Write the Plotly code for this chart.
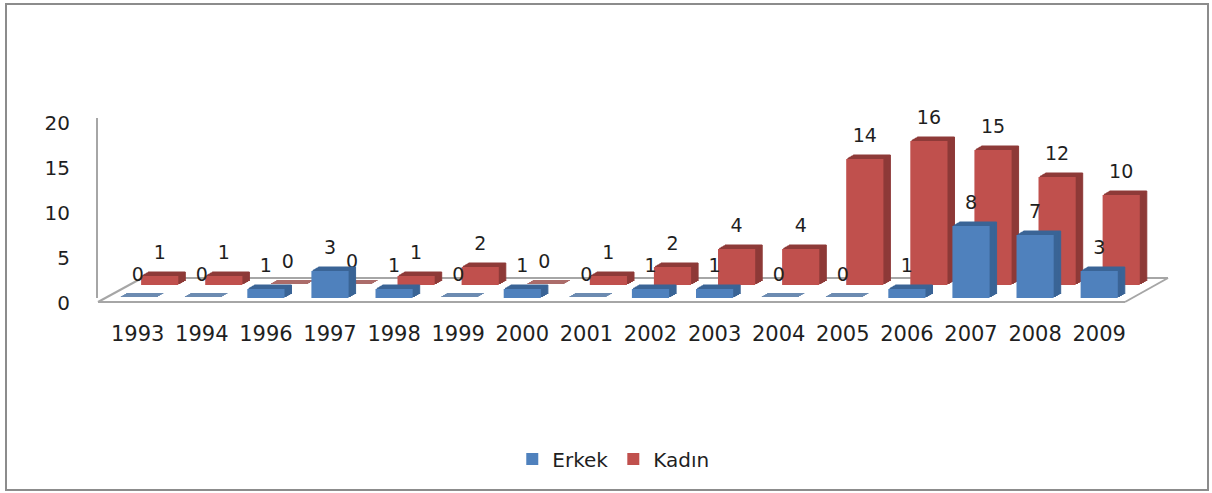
import plotly.graph_objects as go

years = ["1993", "1994", "1996", "1997", "1998", "1999", "2000", "2001",
         "2002", "2003", "2004", "2005", "2006", "2007", "2008", "2009"]
erkek = [0, 0, 1, 3, 1, 0, 1, 0, 1, 1, 0, 0, 1, 8, 7, 3]
kadin = [1, 1, 0, 0, 1, 2, 0, 1, 2, 4, 4, 14, 16, 15, 12, 10]

W, H = 1212, 493
FONT = "DejaVu Sans"
TXT = "#1F1F1F"

# geometry of the pseudo-3D projection (pixels)
CAT0, STEP = 137.7, 64.1          # centre of first category, category step
BASE, TOP = 298.0, 118.0          # y pixel of 0 and 20 for the front row
ROW_DX, ROW_DY = 22.0, -13.0      # back row offset
DEPTH_STEPS = [(1.75 * k, -1.0 * k) for k in range(1, 5)]
LABEL_DY = -10.0
BARW = 0.58

series = [
    dict(name="Kadın", vals=kadin, front="#C0504D", depth="#8E3A38",
         dx=ROW_DX, dy=ROW_DY),
    dict(name="Erkek", vals=erkek, front="#4F81BD", depth="#3A6496",
         dx=0.0, dy=0.0),
]

fig = go.Figure()
layout_axes = {}
idx = 0


def add_axes(dx, dy, visible=False):
    global idx
    idx += 1
    left = CAT0 - STEP / 2 + dx
    right = left + len(years) * STEP
    xd = [left / W, right / W]
    yd = [(H - (BASE + dy)) / H, (H - (TOP + dy)) / H]
    xn = "xaxis" if idx == 1 else f"xaxis{idx}"
    yn = "yaxis" if idx == 1 else f"yaxis{idx}"
    xa = "x" if idx == 1 else f"x{idx}"
    ya = "y" if idx == 1 else f"y{idx}"
    layout_axes[xn] = dict(domain=xd, anchor=ya, range=[-0.5, len(years) - 0.5],
                           type="category", categoryorder="array",
                           categoryarray=years, visible=visible, automargin=False,
                           showgrid=False, zeroline=False, fixedrange=True)
    layout_axes[yn] = dict(domain=yd, anchor=xa, range=[0, 20], visible=visible,
                           automargin=False,
                           showgrid=False, zeroline=False, fixedrange=True)
    return xa, ya, xn, yn


for s in series:
    # depth copies (furthest first)
    for ddx, ddy in reversed(DEPTH_STEPS):
        xa, ya, _, _ = add_axes(s["dx"] + ddx, s["dy"] + ddy)
        fig.add_trace(go.Bar(x=years, y=s["vals"], xaxis=xa, yaxis=ya,
                             width=BARW, marker=dict(color=s["depth"],
                             line=dict(color=s["depth"], width=1)),
                             showlegend=False, hoverinfo="skip"))
    # front face
    xa, ya, xn, yn = add_axes(s["dx"], s["dy"])
    fig.add_trace(go.Bar(x=years, y=s["vals"], xaxis=xa, yaxis=ya, name=s["name"],
                         width=BARW, marker=dict(color=s["front"], line=dict(width=0)),
                         showlegend=True, legendrank=2 if s["name"] == "Kadın" else 1))
    if s["name"] == "Erkek":
        front_xn, front_yn = xn, yn
    # value labels
    xa, ya, _, _ = add_axes(s["dx"], s["dy"] + LABEL_DY)
    fig.add_trace(go.Bar(x=years, y=s["vals"], xaxis=xa, yaxis=ya, width=BARW,
                         marker=dict(color="rgba(0,0,0,0)", line=dict(width=0)),
                         text=[str(v) for v in s["vals"]], textposition="outside",
                         textfont=dict(family=FONT, size=19, color=TXT),
                         constraintext="none", cliponaxis=False,
                         showlegend=False, hoverinfo="skip"))

# visible axes on the Erkek front subplot
layout_axes[front_xn].update(visible=True, showline=False, ticks="",
                             tickfont=dict(family=FONT, size=21, color=TXT),
                             ticklabelstandoff=21)
layout_axes[front_yn].update(visible=True, showline=True, linecolor="#A6A6A6",
                             linewidth=2, ticks="", anchor="free",
                             position=97 / W, tickvals=[0, 5, 10, 15, 20],
                             tickfont=dict(family=FONT, size=20, color=TXT),
                             ticklabelstandoff=22, ticklabelshift=5)

# floor outline and chart border (decoration)
def px(x): return x / W
def py(y): return (H - y) / H

floor = [(98, 302), (1125, 302), (1168, 278), (142, 278)]
shapes = []
for i in range(4):
    (x0, y0), (x1, y1) = floor[i], floor[(i + 1) % 4]
    shapes.append(dict(type="line", xref="paper", yref="paper", x0=px(x0), y0=py(y0),
                       x1=px(x1), y1=py(y1), line=dict(color="#A6A6A6", width=2),
                       layer="below"))
shapes.append(dict(type="rect", xref="paper", yref="paper", x0=px(6), y0=py(4),
                   x1=px(1208), y1=py(490), line=dict(color="#8C8C8C", width=2),
                   layer="below"))

fig.update_layout(
    width=W, height=H, margin=dict(l=0, r=0, t=0, b=0, autoexpand=False),
    paper_bgcolor="white", plot_bgcolor="rgba(0,0,0,0)",
    barmode="overlay", shapes=shapes,
    legend=dict(orientation="h", x=0.506, xanchor="center", y=py(459),
                yanchor="middle", font=dict(family=FONT, size=20, color=TXT),
                traceorder="normal", itemwidth=30),
    **layout_axes,
)

fig.write_html("out.html")
